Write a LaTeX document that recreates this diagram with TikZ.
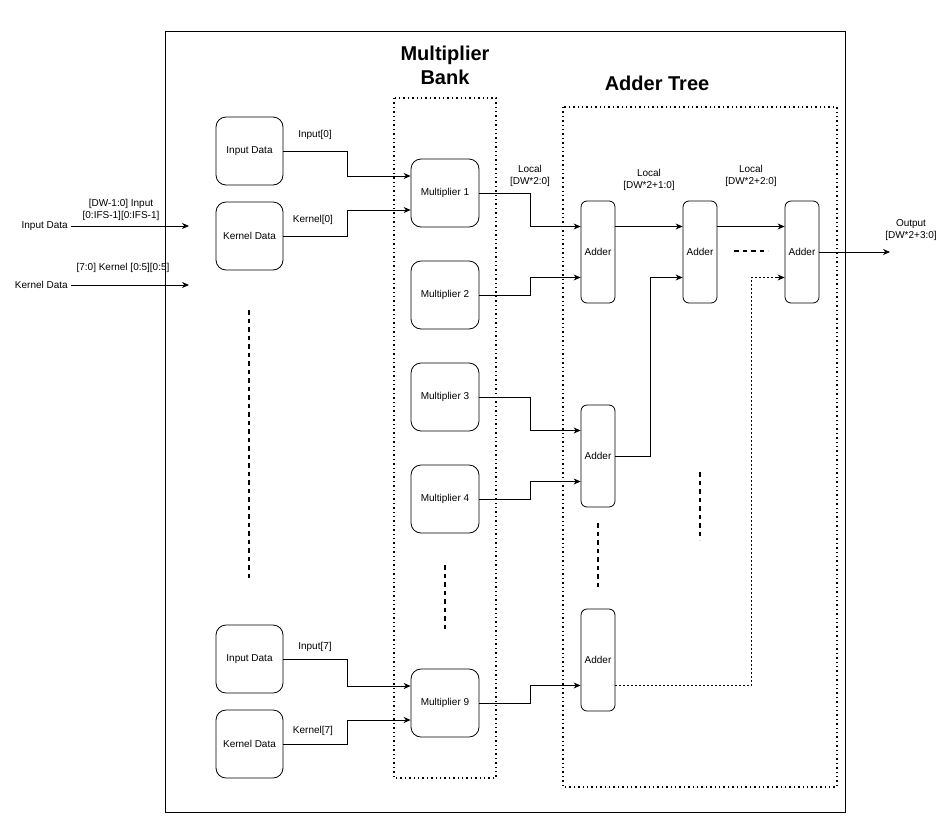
\documentclass[tikz,border=0pt]{standalone}
\usepackage{fontspec}
\setmainfont{Liberation Sans}
\usetikzlibrary{arrows.meta,calc}
\begin{document}
\begin{tikzpicture}[x=1pt,y=-1pt,
  font=\fontsize{10}{11}\selectfont,
  rbox/.style={draw,rounded corners=10pt,minimum width=67pt,minimum height=68pt,inner sep=0pt,line width=0.8pt},
  abox/.style={draw,rounded corners=6pt,minimum width=34pt,minimum height=102pt,inner sep=0pt,line width=0.8pt},
  arr/.style={-{Stealth[length=7pt,width=6pt]},line width=0.8pt},
  conn/.style={line width=0.8pt},
  dotbox/.style={line width=1.4pt,dash pattern=on 1.4pt off 3pt},
  vdash/.style={line width=1.6pt,dash pattern=on 4.5pt off 4pt},
  fine/.style={line width=0.8pt,dash pattern=on 2pt off 2pt},
  lbl/.style={align=center,inner sep=0pt,font=\fontsize{10}{12}\selectfont},
  title/.style={align=center,inner sep=0pt,font=\fontsize{20}{24}\selectfont\bfseries}]
\useasboundingbox[fill=white] (0,0) rectangle (952,838);
% outer frame
\draw[line width=0.8pt] (165,31) rectangle (845,812);
% dotted groups
\draw[dotbox] (394,98) rectangle (496,778);
\draw[dotbox] (563,107) rectangle (837,787);
\node[title] (tmb) at (445,65) {Multiplier\\Bank};
\node[title] (tat) at (657,83) {Adder Tree};
% data boxes
\node[rbox] (in0) at (249.5,151) {Input Data};
\node[rbox] (k0) at (249.5,236) {Kernel Data};
\node[rbox] (in7) at (249.5,659) {Input Data};
\node[rbox] (k7) at (249.5,744) {Kernel Data};
% multipliers
\node[rbox,minimum width=68pt] (m1) at (445,193) {Multiplier 1};
\node[rbox,minimum width=68pt] (m2) at (445,295) {Multiplier 2};
\node[rbox,minimum width=68pt] (m3) at (445,397) {Multiplier 3};
\node[rbox,minimum width=68pt] (m4) at (445,499) {Multiplier 4};
\node[rbox,minimum width=68pt] (m9) at (445,703) {Multiplier 9};
% adders
\node[abox] (a1) at (598,252) {Adder};
\node[abox] (a2) at (598,456) {Adder};
\node[abox] (a3) at (598,660) {Adder};
\node[abox] (b1) at (700,252) {Adder};
\node[abox] (c1) at (802,252) {Adder};
% external inputs
\node[anchor=east,inner sep=0pt] (xin) at (68,226) {Input Data};
\coordinate (xinE) at (189,226);
\draw[arr] (xin.east) ++(3,0) -- (xinE);
\node[lbl] (lxin) at (121,210) {{[DW-1:0]} Input\\{}{[0:IFS-1][0:IFS-1]}};
\node[anchor=east,inner sep=0pt] (xk) at (68,285) {Kernel Data};
\coordinate (xkE) at (189,285);
\draw[arr] (xk.east) ++(3,0) -- (xkE);
\node[lbl] (lxk) at (123,268) {{[7:0] Kernel [0:5][0:5]}};
% data -> multipliers
\draw[arr] (in0.east) -- ++(64,0) |- ([yshift=17pt]m1.west);
\draw[arr] (k0.east) -- ++(64,0) |- ([yshift=-17pt]m1.west);
\node[lbl] at (315,135) {{Input[0]}};
\node[lbl] at (313,220) {{Kernel[0]}};
\draw[arr] (in7.east) -- ++(64,0) |- ([yshift=17pt]m9.west);
\draw[arr] (k7.east) -- ++(64,0) |- ([yshift=-17pt]m9.west);
\node[lbl] at (315,647) {{Input[7]}};
\node[lbl] at (313,731) {{Kernel[7]}};
% multipliers -> adders
\draw[arr] (m1.east) -- ++(51,0) |- ([yshift=25.5pt]a1.west);
\draw[arr] (m2.east) -- ++(51,0) |- ([yshift=-25.5pt]a1.west);
\draw[arr] (m3.east) -- ++(51,0) |- ([yshift=25.5pt]a2.west);
\draw[arr] (m4.east) -- ++(51,0) |- ([yshift=-25.5pt]a2.west);
\draw[arr] (m9.east) -- ++(51,0) |- ([yshift=-25.5pt]a3.west);
\node[lbl] at (530,176) {Local\\{}{[DW*2:0]}};
% adder tree
\draw[arr] ([yshift=25.5pt]a1.east) -- ([yshift=25.5pt]b1.west);
\draw[arr] (a2.east) -- ++(35,0) |- ([yshift=-25.5pt]b1.west);
\draw[arr] ([yshift=25.5pt]b1.east) -- ([yshift=25.5pt]c1.west);
\draw[fine] ([yshift=-25.5pt]a3.east) -- ++(136,0) |- ([yshift=-25.5pt,xshift=-8pt]c1.west) coordinate (c1in);
\draw[arr] (c1in) -- ([yshift=-25.5pt]c1.west);
\node[lbl] at (649,180) {Local\\{}{[DW*2+1:0]}};
\node[lbl] at (751,176) {Local\\{}{[DW*2+2:0]}};
\coordinate (outE) at (890,252);
\draw[arr] (c1.east) -- (outE);
\node[lbl] at (911,230) {Output\\{}{[DW*2+3:0]}};
% ellipsis dashes
\draw[vdash] (249,310) -- (249,580);
\draw[vdash] (445,565) -- (445,632);
\draw[vdash] (598,523) -- (598,590);
\draw[vdash] (700,472) -- (700,540);
\draw[vdash] (734,251) -- (768,251);
\end{tikzpicture}
\end{document}
